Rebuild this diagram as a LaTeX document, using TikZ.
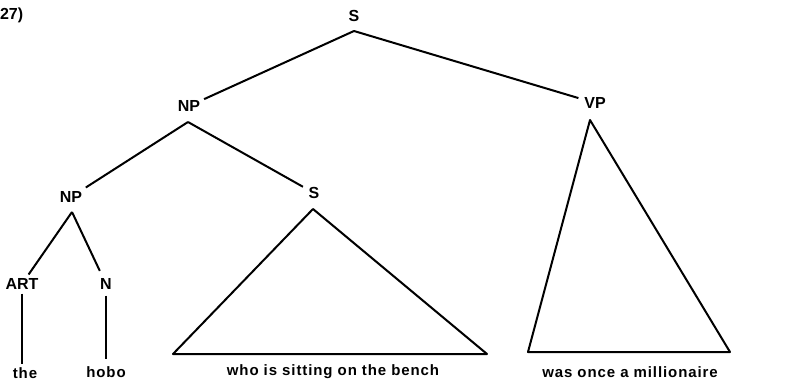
\documentclass[tikz,border=0pt]{standalone}
\usepackage{fontspec}
\setmainfont{Liberation Sans}
\newfontfamily\wordfont[LetterSpace=6]{Liberation Sans}
\usepackage{tikz}

\begin{document}
\begin{tikzpicture} [x = 1pt, y = -1pt, line width = 2pt,
                     cat/.style = {inner sep = 3pt, font = \fontsize{16}{18}\selectfont\bfseries},
                     word/.style = {inner sep = 2pt, font = \fontsize{15}{17}\selectfont\wordfont\bfseries}]
                \useasboundingbox (0,0) rectangle (801,383);
                \node [cat, anchor = west, inner sep = 0pt] (ex) at (-1,15) {27)};
                % categories
                \node [cat] (s0) at (354,16) {S};
                \node [cat] (np1) at (189,106) {NP};
                \node [cat] (vp) at (595,103) {VP};
                \node [cat] (np2) at (71,197) {NP};
                \node [cat] (s1) at (314,193) {S};
                \node [cat] (art) at (22,284) {ART};
                \node [cat] (n) at (106,284) {N};
                % words
                \node [word] (the) at (25,373) {the};
                \node [word] (hobo) at (106,372) {hobo};
                \node [word] (who) at (333,372) {who is sitting on the bench};
                \node [word] (was) at (630,372) {was once a millionaire};
                % branch points under the labels
                \foreach \c/\dx/\dy in {s0/0/15, np1/-1/16, np2/1/15, s1/-1/16, vp/-5/17}
                  \coordinate (\c-b) at ([xshift = \dx pt, yshift = -\dy pt] \c.center);
                \coordinate (s1-l) at (173,354);
                \coordinate (s1-r) at (487,354);
                \coordinate (vp-l) at (528,352);
                \coordinate (vp-r) at (730,352);
                \draw [shorten > = 2pt] (s0-b) -- (np1) (s0-b) -- (vp);
                \draw [shorten > = 2pt] (np1-b) -- (np2) (np1-b) -- (s1);
                \draw [shorten > = 4pt] (np2-b) -- (art) (np2-b) -- (n);
                \draw [shorten < = 2pt, shorten > = 4pt] (art.south) -- (art.south |- the.north)
                                                         (n.south) -- (n.south |- hobo.north);
                \draw [line join = round] (s1-b) -- (s1-l) -- (s1-r) -- cycle;
                \draw [line join = round] (vp-b) -- (vp-l) -- (vp-r) -- cycle;
            \end{tikzpicture}
\end{document}
